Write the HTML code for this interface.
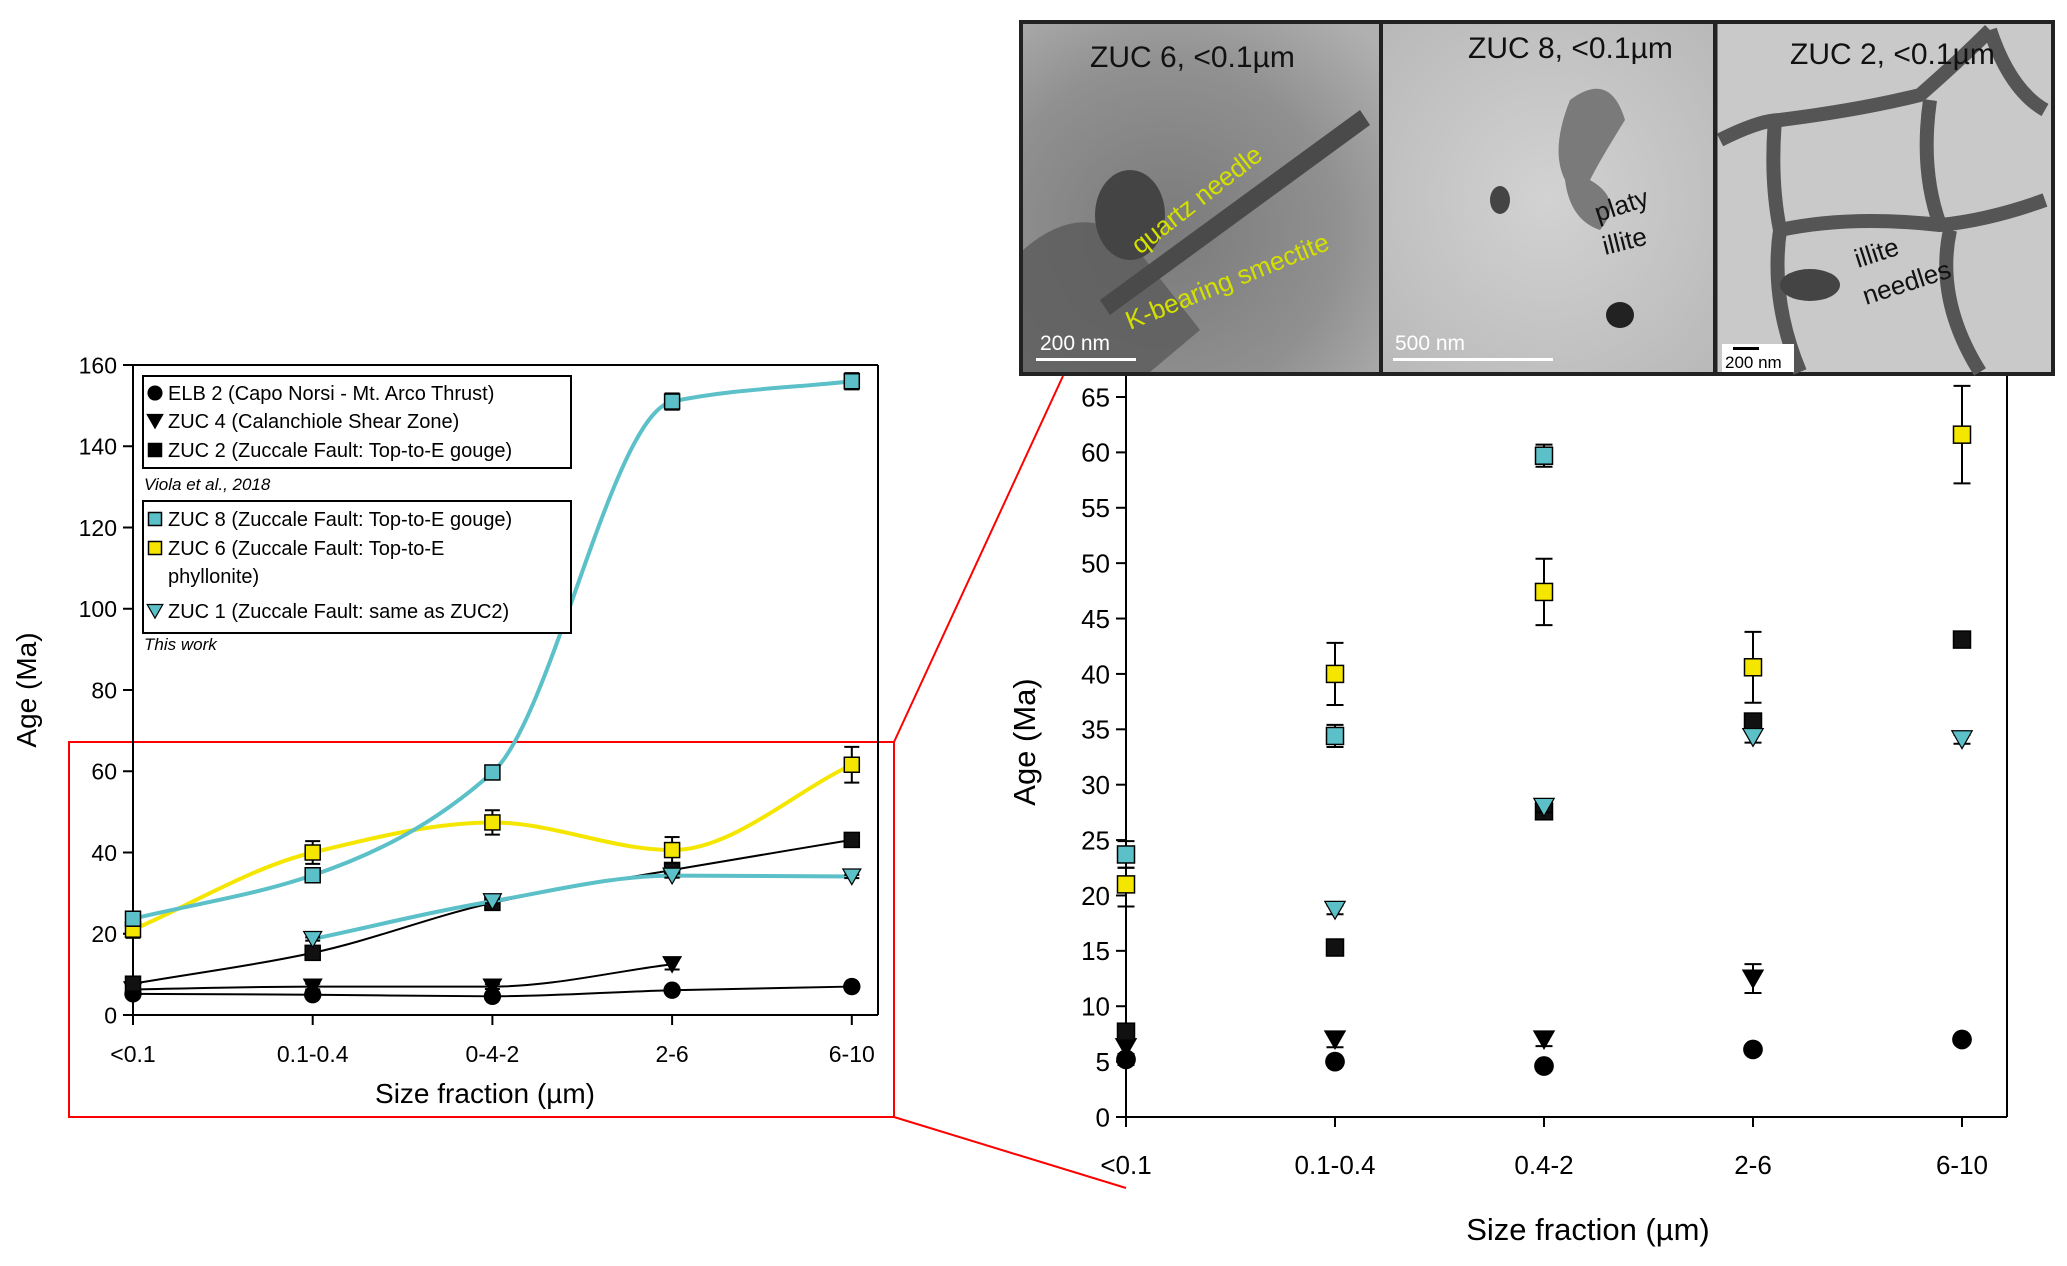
<!DOCTYPE html>
<html><head><meta charset="utf-8"><style>
body{margin:0;background:#fff;}
svg{display:block;font-family:"Liberation Sans",Arial,sans-serif;}
</style></head><body>
<svg id="fig" width="2067" height="1266" viewBox="0 0 2067 1266" xmlns="http://www.w3.org/2000/svg">
<defs>
<radialGradient id="g1" cx="0.4" cy="0.6" r="0.8"><stop offset="0" stop-color="#7a7a7a"/><stop offset="0.6" stop-color="#909090"/><stop offset="1" stop-color="#b0b0b0"/></radialGradient>
<radialGradient id="g2" cx="0.5" cy="0.5" r="0.8"><stop offset="0" stop-color="#d2d2d2"/><stop offset="1" stop-color="#b5b5b5"/></radialGradient>
</defs>
<g id="photos">
 <rect x="1019" y="20" width="1036" height="356" fill="#222"/>
 <g>
  <rect x="1023" y="24" width="356" height="348" fill="url(#g1)"/>
  <path d="M1023 250 Q1080 200 1130 240 L1200 330 L1150 372 L1023 372Z" fill="#5a5a5a" opacity="0.8"/>
  <ellipse cx="1130" cy="215" rx="35" ry="45" fill="#444"/>
  <path d="M1100 300 L1360 110 L1370 125 L1110 315Z" fill="#4a4a4a"/>
  <text x="1090" y="67" font-size="30" fill="#111">ZUC 6, &lt;0.1µm</text>
  <text transform="translate(1140,255) rotate(-38)" font-size="26" fill="#d4e000">quartz needle</text>
  <text transform="translate(1130,330) rotate(-22)" font-size="26" fill="#d4e000">K-bearing smectite</text>
  <text x="1040" y="350" font-size="21" fill="#fff">200 nm</text>
  <rect x="1036" y="358" width="100" height="3" fill="#fff"/>
 </g>
 <g>
  <rect x="1383" y="24" width="330" height="348" fill="url(#g2)"/>
  <path d="M1570 100 Q1610 70 1625 120 Q1600 160 1590 180 Q1625 200 1600 230 Q1570 220 1565 180 Q1550 150 1570 100Z" fill="#7a7a7a"/>
  <ellipse cx="1500" cy="200" rx="10" ry="14" fill="#444"/>
  <ellipse cx="1620" cy="315" rx="14" ry="13" fill="#222"/>
  <text x="1468" y="58" font-size="30" fill="#111">ZUC 8, &lt;0.1µm</text>
  <text transform="translate(1598,222) rotate(-18)" font-size="26" fill="#111">platy</text>
  <text transform="translate(1605,255) rotate(-14)" font-size="26" fill="#111">illite</text>
  <text x="1395" y="350" font-size="21" fill="#fff">500 nm</text>
  <rect x="1393" y="358" width="160" height="3" fill="#fff"/>
 </g>
 <g>
  <rect x="1717" y="24" width="334" height="348" fill="#c9c9c9"/>
  <g fill="none" stroke="#555" stroke-width="14">
   <path d="M1720 140 Q1760 120 1780 120 Q1860 110 1920 95 Q1960 60 1990 30"/>
   <path d="M1775 120 Q1770 180 1780 230 Q1770 300 1800 372"/>
   <path d="M1780 230 Q1850 215 1940 225 Q1990 220 2045 200"/>
   <path d="M1940 225 Q1920 170 1930 100"/>
   <path d="M1950 230 Q1935 300 1980 372"/>
   <path d="M1990 30 Q2010 90 2045 110"/>
  </g>
  <ellipse cx="1810" cy="285" rx="30" ry="16" fill="#444"/>
  <text x="1790" y="64" font-size="30" fill="#111">ZUC 2, &lt;0.1µm</text>
  <text transform="translate(1858,268) rotate(-18)" font-size="26" fill="#111">illite</text>
  <text transform="translate(1866,305) rotate(-18)" font-size="26" fill="#111">needles</text>
  <rect x="1722" y="344" width="72" height="28" fill="#fff"/>
  <rect x="1733" y="347" width="26" height="3" fill="#000"/>
  <text x="1725" y="368" font-size="17" fill="#000">200 nm</text>
 </g>
 <line x1="1381" y1="20" x2="1381" y2="376" stroke="#222" stroke-width="3"/>
 <line x1="1716" y1="20" x2="1716" y2="376" stroke="#222" stroke-width="3"/>
</g>
<g>
 <rect x="69" y="742" width="825" height="375" fill="none" stroke="#f00" stroke-width="2"/>
 <line x1="894" y1="742" x2="1063" y2="376" stroke="#f00" stroke-width="2"/>
 <line x1="894" y1="1117" x2="1126" y2="1188" stroke="#f00" stroke-width="2"/>
</g>
<g id="left"></g>
<g id="right"></g>
</svg>
<script>
const categories=["<0.1","0.1-0.4","0-4-2","2-6","6-10"];
const categoriesR=["<0.1","0.1-0.4","0.4-2","2-6","6-10"];
const elb2=[5.2,5.0,4.6,6.1,7.0];
const zuc4=[6.3,7.0,7.0,12.5,null];
const zuc2=[7.7,15.3,27.6,35.7,43.1];
const zuc8=[23.7,34.4,59.7,151,156];
const zuc6=[21.0,40.0,47.4,40.6,61.6];
const zuc1=[null,18.7,28.0,34.3,34.1];
const err8=[1.2,1.0,1.0,2.0,2.0];
const err6Hi=[1.5,2.8,3.0,3.2,4.4];
const err6Lo=[2.0,2.8,3.0,3.2,4.4];
const err4=[0.8,0.7,0.6,1.3,0];
const err2=[0.6,0.5,0.6,0.6,0.6];
const err1=[0,0.4,0.5,0.5,0.4];
const errElb=[0.5,0.3,0.3,0.3,0.3];
const ticksL=[0,20,40,60,80,100,120,140,160];
const ticksR=[0,5,10,15,20,25,30,35,40,45,50,55,60,65];
const NS="http://www.w3.org/2000/svg";
function mk(p,t,a){const e=document.createElementNS(NS,t);for(const k in a)e.setAttribute(k,a[k]);p.appendChild(e);return e;}
function spline(pts){const n=pts.length;if(n<2)return"";
 const dx=[],m=[],t=[];for(let i=0;i<n-1;i++){dx[i]=pts[i+1][0]-pts[i][0];m[i]=(pts[i+1][1]-pts[i][1])/dx[i];}
 t[0]=m[0];t[n-1]=m[n-2];
 for(let i=1;i<n-1;i++){if(m[i-1]*m[i]<=0)t[i]=0;else t[i]=2/(1/m[i-1]+1/m[i]);}
 let d=`M${pts[0][0]},${pts[0][1]}`;
 for(let i=0;i<n-1;i++){const h=dx[i]/3;d+=` C${pts[i][0]+h},${pts[i][1]+t[i]*h} ${pts[i+1][0]-h},${pts[i+1][1]-t[i+1]*h} ${pts[i+1][0]},${pts[i+1][1]}`;}
 return d;}
function marker(g,type,x,y,s,fill){let e;
 if(type==="circle")e=mk(g,"circle",{cx:x,cy:y,r:s*0.58,fill:"#000"});
 else if(type==="tri")e=mk(g,"path",{d:`M${x-s*0.6},${y-s*0.5} L${x+s*0.6},${y-s*0.5} L${x},${y+s*0.55}Z`,fill:fill,stroke:"#000","stroke-width":1.2});
 else e=mk(g,"rect",{x:x-s/2,y:y-s/2,width:s,height:s,fill:fill,stroke:"#000","stroke-width":1.5});
 return e;}
function errbar(g,x,y1,y2,w){mk(g,"line",{x1:x,y1:y1,x2:x,y2:y2,stroke:"#000","stroke-width":2});mk(g,"line",{x1:x-w,y1:y1,x2:x+w,y2:y1,stroke:"#000","stroke-width":2});mk(g,"line",{x1:x-w,y1:y2,x2:x+w,y2:y2,stroke:"#000","stroke-width":2});}
const series=[
 {name:"elb2",v:elb2,e:errElb,type:"circle",fill:"#000",line:"#000",lw:2},
 {name:"zuc4",v:zuc4,e:err4,type:"tri",fill:"#000",line:"#000",lw:2},
 {name:"zuc2",v:zuc2,e:err2,type:"sq",fill:"#111",line:"#000",lw:2},
 {name:"zuc1",v:zuc1,e:err1,type:"tri",fill:"#5bc0c8",line:"#5bc0c8",lw:4},
 {name:"zuc6",v:zuc6,eh:err6Hi,el:err6Lo,type:"sq",fill:"#f5e600",line:"#f5e600",lw:4},
 {name:"zuc8",v:zuc8,e:err8,type:"sq",fill:"#5bc0c8",line:"#5bc0c8",lw:4}
];
function drawChart(gid,o){
 const g=document.getElementById(gid);
 const X=i=>o.x0+i*o.dx, Y=v=>o.y0-(v-0)*(o.y0-o.y1)/(o.vmax);
 mk(g,"line",{x1:o.x0,y1:o.y0,x2:o.xr,y2:o.y0,stroke:"#000","stroke-width":2});
 mk(g,"line",{x1:o.x0,y1:o.y0,x2:o.x0,y2:o.ytop,stroke:"#000","stroke-width":2});
 mk(g,"line",{x1:o.xr,y1:o.y0,x2:o.xr,y2:o.ytop,stroke:"#000","stroke-width":2});
 if(o.box)mk(g,"line",{x1:o.x0,y1:o.ytop,x2:o.xr,y2:o.ytop,stroke:"#000","stroke-width":2});
 o.ticks.forEach(t=>{const y=Y(t);mk(g,"line",{x1:o.x0-10,y1:y,x2:o.x0,y2:y,stroke:"#000","stroke-width":2});
  const tx=mk(g,"text",{x:o.x0-16,y:y+o.fs*0.36,"font-size":o.fs,"text-anchor":"end"});tx.textContent=t;
  
  });
 o.cats.forEach((c,i)=>{const x=X(i);mk(g,"line",{x1:x,y1:o.y0,x2:x,y2:o.y0+10,stroke:"#000","stroke-width":2});
  const tx=mk(g,"text",{x:x,y:o.tly,"font-size":o.fs,"text-anchor":"middle"});tx.textContent=c;
  
  });
 const xt=mk(g,"text",{x:o.xtx,y:o.xty,"font-size":o.tfs,"text-anchor":"middle"});xt.textContent="Size fraction (µm)";
 
 
 const yt=mk(g,"text",{transform:`translate(${o.ytx},${o.yty}) rotate(-90)`,"font-size":o.tfs,"text-anchor":"middle"});yt.textContent="Age (Ma)";
 
 
 series.forEach(s=>{
  const sg=mk(g,"g",{});
  
  
  if(o.lines){const pts=[];s.v.forEach((v,i)=>{if(v!==null)pts.push([X(i),Y(v)]);});
   const p=mk(sg,"path",{d:spline(pts),fill:"none",stroke:s.line,"stroke-width":s.lw});
   
   }
  s.v.forEach((v,i)=>{if(v===null||v>o.vmax+1)return;const x=X(i),y=Y(v);
   const hi=s.eh?s.eh[i]:s.e[i],lo=s.el?s.el[i]:s.e[i];
   if(hi>0)errbar(sg,x,Y(v+hi),Y(v-lo),o.ms*0.5);
   const m=marker(sg,s.type,x,y,o.ms,s.fill);
   
   });
 });
}
drawChart("left",{x0:133,dx:179.7,xr:878,y0:1015,y1:365,ytop:365,vmax:160,ticks:ticksL,cats:categories,fs:23,tfs:28,tly:1062,xtx:485,xty:1103,ytx:36,yty:690,ms:15,lines:true,box:true});
drawChart("right",{x0:1126,dx:209,xr:2007,y0:1117,y1:397,ytop:376,vmax:65,ticks:ticksR,cats:categoriesR,fs:26,tfs:31,tly:1174,xtx:1588,xty:1240,ytx:1035,yty:742,ms:17,lines:false,box:false});
const L=document.getElementById("left");
const lg=mk(L,"g",{});


mk(lg,"rect",{x:143,y:376,width:428,height:92,fill:"#fff",stroke:"#000","stroke-width":2});
mk(lg,"rect",{x:143,y:501,width:428,height:132,fill:"#fff",stroke:"#000","stroke-width":2});
const leg=[["circle","#000","ELB 2 (Capo Norsi - Mt. Arco Thrust)",393],["tri","#000","ZUC 4 (Calanchiole Shear Zone)",421],["sq","#000","ZUC 2 (Zuccale Fault: Top-to-E gouge)",450],["sq","#5bc0c8","ZUC 8 (Zuccale Fault: Top-to-E gouge)",519],["sq","#f5e600","ZUC 6 (Zuccale Fault: Top-to-E",548],["tri","#5bc0c8","ZUC 1 (Zuccale Fault: same as ZUC2)",611]];
leg.forEach(l=>{const e=mk(lg,"g",{});
 
 
 marker(e,l[0],155,l[3],13,l[1]);
 const t=mk(e,"text",{x:168,y:l[3]+7,"font-size":20});t.textContent=l[2];});
const ph=mk(lg,"text",{x:168,y:583,"font-size":20});ph.textContent="phyllonite)";
const v1=mk(lg,"text",{x:144,y:490,"font-size":17,"font-style":"italic"});v1.textContent="Viola et al., 2018";


const v2=mk(lg,"text",{x:144,y:650,"font-size":17,"font-style":"italic"});v2.textContent="This work";


</script>
</body></html>
